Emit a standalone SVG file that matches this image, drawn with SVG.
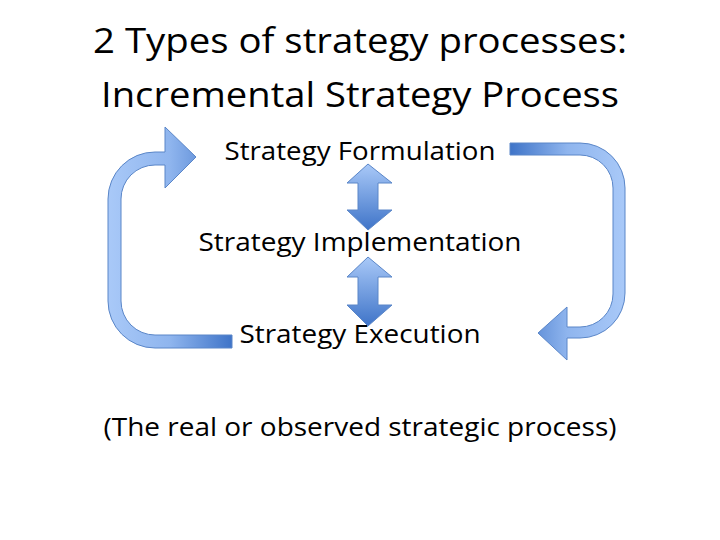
<svg xmlns="http://www.w3.org/2000/svg" width="720" height="540" viewBox="0 0 720 540">
<style>
text{font-family:"Open Sans","Liberation Sans",sans-serif;fill:#000;text-anchor:middle}
.t{font-size:35px}.l{font-size:25px}
.a{stroke:#5a86c8;stroke-width:1}
</style>
<defs>
<linearGradient id="gl" x1="108" y1="0" x2="232" y2="0" gradientUnits="userSpaceOnUse"><stop offset="0" stop-color="#a9c9f8"/><stop offset="0.5" stop-color="#8fb5ee"/><stop offset="1" stop-color="#3f74c8"/></linearGradient>
<linearGradient id="gr" x1="625" y1="0" x2="510" y2="0" gradientUnits="userSpaceOnUse"><stop offset="0" stop-color="#a9c9f8"/><stop offset="0.5" stop-color="#8fb5ee"/><stop offset="1" stop-color="#3f74c8"/></linearGradient>
<linearGradient id="gv" x1="0" y1="0" x2="0" y2="1"><stop offset="0" stop-color="#a9c9f8"/><stop offset="1" stop-color="#3f74c8"/></linearGradient>
</defs>
<rect width="720" height="540" fill="#fff"/>
<g id="title"><text class="t" x="360" y="53" textLength="534" lengthAdjust="spacingAndGlyphs">2 Types of strategy processes:</text>
<text class="t" x="360" y="107" textLength="518" lengthAdjust="spacingAndGlyphs">Incremental Strategy Process</text></g>
<g id="formulation"><text class="l" x="360" y="160" textLength="271" lengthAdjust="spacingAndGlyphs">Strategy Formulation</text></g>
<g id="implementation"><text class="l" x="360" y="251" textLength="323" lengthAdjust="spacingAndGlyphs">Strategy Implementation</text></g>
<g id="execution"><text class="l" x="360" y="343" textLength="241" lengthAdjust="spacingAndGlyphs">Strategy Execution</text></g>
<g id="note"><text class="l" x="360" y="436" textLength="513" lengthAdjust="spacingAndGlyphs">(The real or observed strategic process)</text></g>
<g id="connectors">
<path class="a" fill="url(#gl)" d="M232,335 L155,335 A34,34 0 0 1 121,301 L121,199 A34,34 0 0 1 155,165 L165,165 L165,188 L196,157 L165,127 L165,152 L155,152 A47,47 0 0 0 108,199 L108,301 A47,47 0 0 0 155,348 L232,348 Z"/>
<path class="a" fill="url(#gr)" d="M510,143 L580,143 A45,45 0 0 1 625,188 L625,293 A45,45 0 0 1 580,338 L567,338 L567,360 L538,333 L567,307 L567,327 L580,327 A33,33 0 0 0 613,294 L613,188 A33,33 0 0 0 580,155 L510,155 Z"/>
<path class="a" fill="url(#gv)" d="M368,164 L392,183 L378,183 L378,210 L392,210 L368,230 L347,210 L358,210 L358,183 L347,183 Z"/>
<path class="a" fill="url(#gv)" d="M368,257 L392,277 L378,277 L378,305 L392,305 L368,326 L347,305 L358,305 L358,277 L347,277 Z"/>
</g>
</svg>
